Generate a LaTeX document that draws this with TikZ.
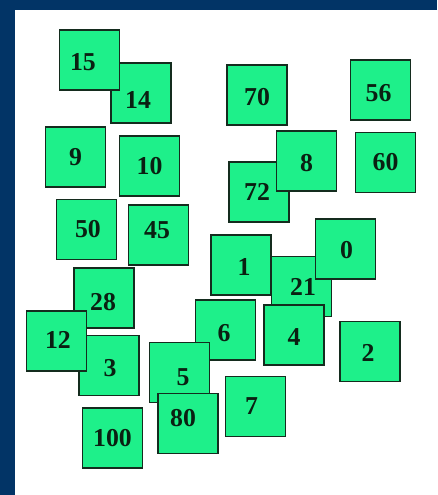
\documentclass[tikz,border=0pt]{standalone}
\usepackage{fontspec}
\setmainfont{Liberation Serif}
\usepackage{tikz}
\usetikzlibrary{positioning}
\usepackage{xcolor}
\definecolor{frameblue}{HTML}{023466}
\definecolor{cardgreen}{HTML}{1EF08A}
\definecolor{cardedge}{HTML}{142C1E}
\definecolor{cardtext}{HTML}{0A2012}

\begin{document}
\begin{tikzpicture}[
    x=0.03cm, y=-0.03cm,
    card/.style={draw=cardedge,line width=1.5pt,fill=cardgreen,minimum size=1.8cm,inner sep=0pt},
    num/.style={font=\fontsize{22}{22}\selectfont\bfseries,text=cardtext,inner sep=0pt}
]
% frame
\fill[frameblue] (0,0) rectangle (437,495);
\fill[white] (15,9.5) rectangle (437,495);
\useasboundingbox (0,0) rectangle (437,495);

% left column
\node[card,label={[num,shift={(-3,7)}]center:14}] (c14) at (141,93) {};
\node[card,label={[num,shift={(-6.5,2)}]center:15}] (c15) at (89.5,60) {};
\node[card,label={[num]center:9}] (c9) at (75.5,157) {};
\node[card,label={[num]center:10}] (c10) at (149.5,166) {};
\node[card,label={[num,shift={(1.5,0)}]center:50}] (c50) at (86.5,229.5) {};
\node[card,label={[num,shift={(-1.5,-5)}]center:45}] (c45) at (158.5,235) {};

% right top
\node[card,label={[num,shift={(0,2)}]center:70}] (c70) at (257,95) {};
\node[card,label={[num,shift={(-2,3)}]center:56}] (c56) at (380.5,90) {};
\node[card,label={[num,shift={(-2,0)}]center:72}] (c72) at (259,192) {};
\node[card,label={[num,shift={(0,2)}]center:8}] (c8) at (306.5,161) {};
\node[card,label={[num]center:60}] (c60) at (385.5,162.5) {};

% middle
\node[card,label={[num,shift={(1.5,0)}]center:21}] (c21) at (301.5,286.5) {};
\node[card,label={[num,shift={(3,2)}]center:1}] (c1) at (241,265) {};
\node[card,label={[num,shift={(1,1)}]center:0}] (c0) at (345.5,249) {};
\node[card,label={[num,shift={(0,2)}]center:4}] (c4) at (294,335) {};
\node[card,label={[num,shift={(-1.5,3)}]center:6}] (c6) at (225.5,330) {};
\node[card,label={[num,shift={(-2,1)}]center:2}] (c2) at (370,351.5) {};
\node[card,label={[num,shift={(-4,0)}]center:7}] (c7) at (255.5,406.5) {};

% bottom left
\node[card,label={[num,shift={(-1,4)}]center:28}] (c28) at (104,298) {};
\node[card,label={[num,shift={(1,2.5)}]center:3}] (c3) at (109,365.5) {};
\node[card,label={[num,shift={(1.5,-1)}]center:12}] (c12) at (56.5,341) {};
\node[card,label={[num,shift={(3.5,4.5)}]center:5}] (c5) at (179.5,372.5) {};
\node[card,label={[num,shift={(-5,-5.5)}]center:80}] (c80) at (188,423.5) {};
\node[card,label={[num]center:100}] (c100) at (112.5,438) {};
\end{tikzpicture}
\end{document}
